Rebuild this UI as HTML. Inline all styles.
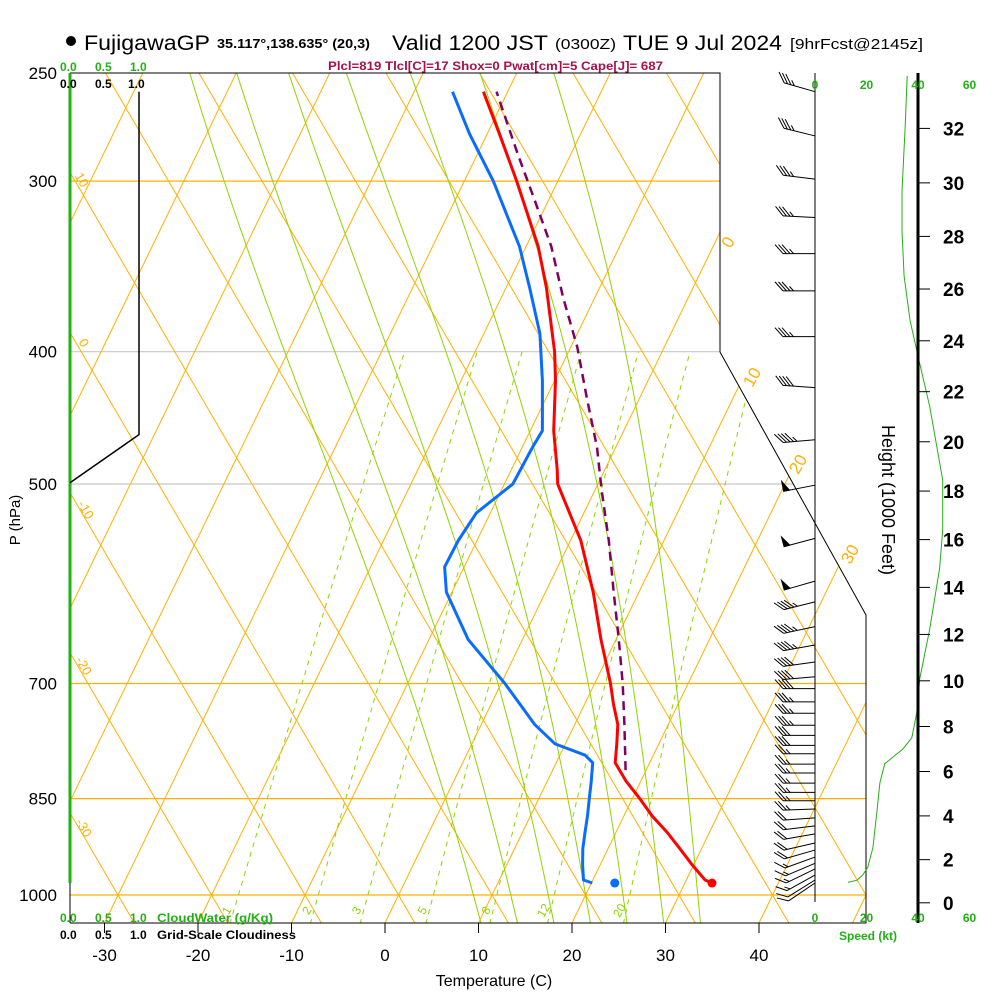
<!DOCTYPE html>
<html><head><meta charset="utf-8"><title>Skew-T FujigawaGP</title>
<style>
html,body{margin:0;padding:0;background:#fff;}
svg{display:block;font-family:"Liberation Sans",Arial,sans-serif;}
</style></head>
<body>
<svg id="chart" width="1000" height="1000" viewBox="0 0 1000 1000" xmlns="http://www.w3.org/2000/svg">
<defs><clipPath id="plotclip"><polygon points="70,73 720,73 720,352 866,615 866,923 70,923"/></clipPath></defs>
<rect x="0" y="0" width="1000" height="1000" fill="#fff"/>
<g id="grid" clip-path="url(#plotclip)"></g>
<g id="frame">
<polyline points="70,73 720,73 720,352 866,615 866,923 70,923" fill="none" stroke="#000" stroke-width="1"/>
<line x1="70" y1="73" x2="70" y2="883" stroke="#22b014" stroke-width="3"/>
<line x1="70" y1="883" x2="70" y2="923" stroke="#000" stroke-width="1"/>
</g>
<g id="series"></g>
<g id="barbs"></g>
<g id="rightpanel">
<line x1="815" y1="73" x2="815" y2="902" stroke="#000" stroke-width="1"/>
<line x1="918" y1="73" x2="918" y2="923" stroke="#000" stroke-width="3"/>
</g>
<g fill="#000">
<circle cx="71" cy="41" r="5"/>
<text x="84" y="50" font-size="21" textLength="126" lengthAdjust="spacingAndGlyphs">FujigawaGP</text>
<text x="217" y="48" font-size="13" font-weight="bold" textLength="153" lengthAdjust="spacingAndGlyphs">35.117°,138.635° (20,3)</text>
<text x="392" y="50" font-size="21" textLength="156" lengthAdjust="spacingAndGlyphs">Valid 1200 JST</text>
<text x="555" y="49" font-size="15" textLength="61" lengthAdjust="spacingAndGlyphs">(0300Z)</text>
<text x="623" y="50" font-size="21" textLength="159" lengthAdjust="spacingAndGlyphs">TUE 9 Jul 2024</text>
<text x="790" y="49" font-size="15" textLength="133" lengthAdjust="spacingAndGlyphs">[9hrFcst@2145z]</text>
<text x="328" y="70" font-size="12" font-weight="bold" fill="#a8104c" textLength="335" lengthAdjust="spacingAndGlyphs">Plcl=819 Tlcl[C]=17 Shox=0 Pwat[cm]=5 Cape[J]= 687</text>
</g>
<g font-size="12" font-weight="bold">
<text x="60" y="71" fill="#22b014">0.0</text><text x="95" y="71" fill="#22b014">0.5</text><text x="130" y="71" fill="#22b014">1.0</text>
<text x="60" y="88" fill="#000">0.0</text><text x="95" y="88" fill="#000">0.5</text><text x="128" y="88" fill="#000">1.0</text>
<text x="60" y="922" fill="#22b014">0.0</text><text x="95" y="922" fill="#22b014">0.5</text><text x="130" y="922" fill="#22b014">1.0</text>
<text x="157" y="922" fill="#22b014" textLength="116" lengthAdjust="spacingAndGlyphs">CloudWater (g/Kg)</text>
<text x="60" y="939" fill="#000">0.0</text><text x="95" y="939" fill="#000">0.5</text><text x="130" y="939" fill="#000">1.0</text>
<text x="157" y="939" fill="#000" textLength="139" lengthAdjust="spacingAndGlyphs">Grid-Scale Cloudiness</text>
</g>
<g fill="#000">
<text x="494" y="986" font-size="16" text-anchor="middle">Temperature (C)</text>
<text transform="translate(20,520) rotate(-90)" font-size="15" text-anchor="middle">P (hPa)</text>
<text transform="translate(882,500) rotate(90)" font-size="18" text-anchor="middle">Height (1000 Feet)</text>
<text x="868" y="940" font-size="12" font-weight="bold" fill="#22b014" text-anchor="middle">Speed (kt)</text>
</g>
<g id="labels"></g>
</svg>
<script>
// ---- data arrays ----
const tempPressures = [980,975,950,925,900,875,850,825,800,775,750,725,700,650,600,550,500,488,457,420,400,359,335,300,277,258];
const tempValues    = [32.9,32.0,29.8,27.7,25.5,23.0,20.8,18.4,16.3,15.5,14.6,13.1,11.7,8.4,5.1,1.1,-4.3,-5.1,-7.5,-9.9,-11.5,-15.7,-18.7,-24.4,-28.7,-32.6];
const dewPressures  = [980,975,950,925,900,875,850,825,800,790,775,750,725,700,650,600,575,550,525,500,470,457,420,388,359,335,300,277,258];
const dewValues     = [20.1,19.0,18.1,17.3,16.7,16.1,15.4,14.7,13.9,12.7,8.9,5.7,3.1,0.4,-5.8,-10.6,-12.1,-12.0,-11.5,-9.1,-8.9,-8.7,-11.3,-14.0,-17.5,-20.7,-26.9,-31.9,-35.9];
const parcelPressures = [810,750,700,650,600,550,505,470,432,397,365,335,308,286,258];
const parcelValues    = [17.8,15.3,13.0,10.3,7.3,4.1,0.7,-2.0,-5.7,-9.3,-13.4,-17.3,-21.8,-25.8,-31.2];
const surfacePressure = 980;
const surfaceTemp = 32.9;
const surfaceDew = 22.5;
const isothermTemps = [-110,-100,-90,-80,-70,-60,-50,-40,-30,-20,-10,0,10,20,30,40,50];
const dryAdiabatIndex = [-1,0,1,2,3,4,5,6,7,8,9,10,11,12,13,14,15,16,17,18,19,20,21,22,23,24,25];
const moistThetaW = [8,12,16,20,24,28,32];
const mixingRatios = [1,2,3,5,8,12,20];
const pressureTicks = [250,300,400,500,700,850,1000];
const pressureLines = [300,400,500,700,850,1000];
const tempTicks = [-30,-20,-10,0,10,20,30,40];
const heightTicks = [0,2,4,6,8,10,12,14,16,18,20,22,24,26,28,30,32];
const speedTicks = [0,20,40,60];
const speedHeights = [33.9,32,29.7,28.2,26.5,24.8,23.4,21.4,18.45,16.4,14.8,12.2,10.1,8.6,7.5,7.0,6.35,5.5,4.15,2.55,1.65,1.3,1.05,0.95];
const speedValues  = [35.8,35.0,33.8,33.8,34.6,36.9,40.0,44.6,49.6,49.6,48.4,44.5,40.7,39.5,37.6,34.1,27.1,25.2,24.0,22.5,20.5,18.6,16.3,12.8];
const barbPressures = [258,278,299,319,339,361,390,425,464,501,548,589,610,636,656,675,692,706,722,736,751,764,777,788,802,814,828,841,853,865,878,890,902,916,927,938,948,957,967,975,980];
const barbSpeeds    = [35,35,35,35,35,35,35,40,45,50,50,50,45,45,45,40,40,40,35,35,35,30,30,25,25,25,25,25,25,25,20,20,20,20,20,15,15,15,15,10,10];
const barbDirs      = [286,284,277,273,270,270,270,274,265,259,255,254,256,258,260,262,265,270,270,270,270,270,270,270,270,270,270,270,270,268,266,263,260,257,254,250,247,244,241,238,236];
const cloudPressures = [258,460,499];
const cloudValues = [1,1,0];

// ---- axis functions ----
const NS = "http://www.w3.org/2000/svg";
function yOfP(p){ return 73 + Math.log(p/250)/Math.log(4)*822; }
function xOfTP(T,p){ return 385 + 9.35*T + 0.485*(923 - yOfP(p)); }
function pOfY(y){ return 250*Math.exp((y-73)*Math.log(4)/822); }
function pOfH(hk){ return 1013.25*Math.pow(1-6.8756e-6*hk*1000,5.2559); }
function xOfSpeed(s){ return 815 + s*51.5/20; }
function xOfCloud(c){ return 70 + c*69; }
function mk(tag, attrs, parent){
  const e = document.createElementNS(NS, tag);
  for (const k in attrs) e.setAttribute(k, attrs[k]);
  parent.appendChild(e);
  return e;
}
const grid = document.getElementById('grid');
const series = document.getElementById('series');
const barbs = document.getElementById('barbs');
const labels = document.getElementById('labels');
const ORANGE = '#ffb000', GREEN = '#8fd400';

pressureLines.forEach(p => {
  const y = yOfP(p);
  const l = mk('line', {x1:70, y1:y, x2:866, y2:y, stroke:(p===400||p===500)?'#c8c8c8':ORANGE, 'stroke-width':1.2}, grid);
  
  
});
isothermTemps.forEach(T => {
  const l = mk('line', {x1:xOfTP(T,pOfY(923)), y1:923, x2:xOfTP(T,pOfY(73)), y2:73, stroke:ORANGE, 'stroke-width':1}, grid);
  
  
});
dryAdiabatIndex.forEach(k => {
  const xb = 118 + 93.5*k;
  const l = mk('line', {x1:xb + 0.584*28, y1:923, x2:xb - 0.584*(895-73), y2:73, stroke:ORANGE, 'stroke-width':1}, grid);
  
  
});
function dTdp(T,p){
  const tc = T-273.15;
  const es = 6.112*Math.exp(17.67*tc/(tc+243.5));
  const rs = 0.622*es/(p-es);
  const L = 2.501e6;
  return 0.85*(287.04*T + L*rs)/(p*(1005.7 + L*L*rs*0.622/(461.5*T*T)));
}
moistThetaW.forEach(tw => {
  let pts = [];
  let T = tw+273.15, p = 1000;
  const down = [];
  let T2 = T, p2 = 1000;
  while (p2 < 1060){ down.push([T2,p2]); T2 += dTdp(T2,p2)*5; p2 += 5; }
  down.reverse().forEach(a => pts.push(a));
  while (p > 245){ T += -dTdp(T,p)*5; p -= 5; pts.push([T,p]); }
  const d = pts.map((a,i)=> (i?'L':'M') + xOfTP(a[0]-273.15,a[1]).toFixed(1) + ',' + yOfP(a[1]).toFixed(1)).join(' ');
  const path = mk('path', {d:d, fill:'none', stroke:GREEN, 'stroke-width':1}, grid);
  
  
});
mixingRatios.forEach(w => {
  let d = '';
  for (let p = 1050; p >= 400; p -= 10){
    const e = w*p/(622+w);
    const lnr = Math.log(e/6.112);
    const T = 243.5*lnr/(17.67-lnr);
    d += (p===1050?'M':'L') + xOfTP(T,p).toFixed(1) + ',' + yOfP(p).toFixed(1) + ' ';
  }
  const path = mk('path', {d:d, fill:'none', stroke:GREEN, 'stroke-width':1, 'stroke-dasharray':'5,5'}, grid);
  
  
  const e0 = w*1030/(622+w), l0 = Math.log(e0/6.112), T0 = 243.5*l0/(17.67-l0);
  const t = mk('text', {transform:'translate(' + (xOfTP(T0,1030)-3).toFixed(1) + ',' + yOfP(1030).toFixed(1) + ') rotate(-60)', 'font-size':12, fill:GREEN, 'text-anchor':'middle'}, labels);
  t.textContent = String(w);
  
  
});

[['10',78,182],['0',80,345],['-10',82,512],['-20',80,668],['-30',80,830]].forEach(a => {
  const t = mk('text', {transform:'translate(' + a[1] + ',' + a[2] + ') rotate(60)', 'font-size':13, fill:ORANGE, 'text-anchor':'middle'}, labels);
  t.textContent = a[0];
  
  
});
[['0',733,245],['10',757,380],['20',803,467],['30',855,557]].forEach(a => {
  const t = mk('text', {transform:'translate(' + a[1] + ',' + a[2] + ') rotate(-60)', 'font-size':17, fill:ORANGE, 'text-anchor':'middle'}, labels);
  t.textContent = a[0];
  
  
});

pressureTicks.forEach(p => {
  const t = mk('text', {x:57, y:yOfP(p)+6, 'font-size':17, 'text-anchor':'end', fill:'#000'}, labels);
  t.textContent = String(p);
  
  
});
tempTicks.forEach(T => {
  const x = 385 + 9.35*T;
  const l = mk('line', {x1:x, y1:923, x2:x, y2:933, stroke:'#000'}, labels);
  
  
  const t = mk('text', {x:x, y:961, 'font-size':17, 'text-anchor':'middle', fill:'#000'}, labels);
  t.textContent = String(T);
  
  
});
heightTicks.forEach(h => {
  const y = yOfP(pOfH(h));
  const l = mk('line', {x1:918, y1:y, x2:930, y2:y, stroke:'#000'}, labels);
  
  
  const t = mk('text', {x:943, y:y+7, 'font-size':19, 'font-weight':'bold', fill:'#000'}, labels);
  t.textContent = String(h);
  
  
});
speedTicks.forEach(s => {
  [89, 922].forEach(yy => {
    const t = mk('text', {x:xOfSpeed(s), y:yy, 'font-size':12, 'font-weight':'bold', fill:'#22b014', 'text-anchor':'middle'}, labels);
    t.textContent = String(s);
    
    
  });
});

function linePath(ps, vs){ return ps.map((p,i)=> (i?'L':'M') + xOfTP(vs[i],p).toFixed(1) + ',' + yOfP(p).toFixed(1)).join(' '); }
const cl = mk('path', {d:cloudPressures.map((p,i)=>(i?'L':'M')+xOfCloud(cloudValues[i])+','+yOfP(p).toFixed(1)).join(' '), fill:'none', stroke:'#000', 'stroke-width':1.5}, series);


const pp = mk('path', {d:linePath(parcelPressures, parcelValues), fill:'none', stroke:'#800060', 'stroke-width':2.5, 'stroke-dasharray':'9,6'}, series);


const dp = mk('path', {d:linePath(dewPressures, dewValues), fill:'none', stroke:'#0a6cff', 'stroke-width':3, 'stroke-linejoin':'round'}, series);


const tp = mk('path', {d:linePath(tempPressures, tempValues), fill:'none', stroke:'#ff0000', 'stroke-width':3, 'stroke-linejoin':'round'}, series);


const sd = mk('circle', {cx:xOfTP(surfaceDew,surfacePressure), cy:yOfP(surfacePressure), r:4.5, fill:'#0a6cff'}, series);


const st = mk('circle', {cx:xOfTP(surfaceTemp,surfacePressure), cy:yOfP(surfacePressure), r:4.5, fill:'#ff0000'}, series);


const sp = mk('path', {d:speedHeights.map((h,i)=>(i?'L':'M')+xOfSpeed(speedValues[i]).toFixed(1)+','+yOfP(pOfH(h)).toFixed(1)).join(' '), fill:'none', stroke:'#22b014', 'stroke-width':1}, series);



barbPressures.forEach((p,i) => {
  const y = yOfP(p), x = 815;
  const a = barbDirs[i]*Math.PI/180;
  const ux = Math.sin(a), uy = -Math.cos(a);
  const px = -uy, py = ux;
  const L = 32;
  const g = mk('g', {stroke:'#000', 'stroke-width':1, fill:'#000'}, barbs);
  
  
  const tx = x + L*ux, ty = y + L*uy;
  mk('line', {x1:x, y1:y, x2:tx, y2:ty}, g);
  let s = Math.round(barbSpeeds[i]/5)*5, d = 0;
  while (s >= 50){
    const b1x = tx - d*ux, b1y = ty - d*uy, b2x = tx - (d+6)*ux, b2y = ty - (d+6)*uy;
    mk('polygon', {points: b1x+','+b1y+' '+b2x+','+b2y+' '+(b1x+10*px)+','+(b1y+10*py)}, g);
    d += 7; s -= 50;
  }
  while (s >= 10){
    const bx = tx - d*ux, by = ty - d*uy;
    mk('line', {x1:bx, y1:by, x2:bx + 9*px + 8*ux, y2:by + 9*py + 8*uy}, g);
    d += 3.5; s -= 10;
  }
  if (s >= 5){
    if (d === 0) d = 3.5;
    const bx = tx - d*ux, by = ty - d*uy;
    mk('line', {x1:bx, y1:by, x2:bx + 4.5*px + 4*ux, y2:by + 4.5*py + 4*uy}, g);
  }
});
</script>
</body></html>
